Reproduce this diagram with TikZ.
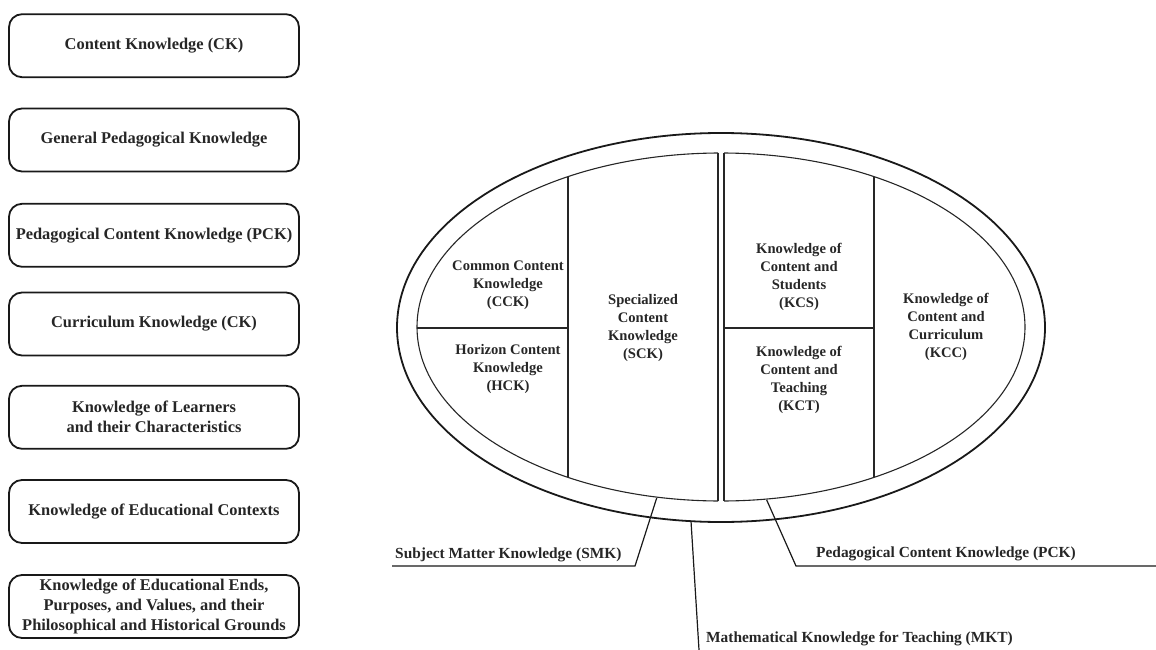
\documentclass[tikz,border=0pt]{standalone}
\usepackage{fontspec}
\setmainfont{Liberation Serif}
\begin{document}
\begin{tikzpicture}[x=1pt,y=-1pt,
  lbox/.style={draw=black!90, line width=1.8pt, rounded corners=13pt, minimum width=290pt, minimum height=63pt, inner sep=0pt, align=center, font=\fontsize{16.4}{20}\selectfont\bfseries, text=black!85},
  etext/.style={align=center, inner sep=0pt, font=\fontsize{14.6}{17.8}\selectfont\bfseries, text=black!85},
  ltext/.style={anchor=base west, inner sep=0pt, font=\fontsize{15.4}{18}\selectfont\bfseries, text=black!85},
  ring/.style={line width=1.8pt, draw=black!90},
  part/.style={line width=1.1pt, draw=black!85},
  lead/.style={line width=1.2pt, draw=black!90}
]
\useasboundingbox (0,0) rectangle (1156,650);

% left column of boxes
\node[lbox] (b1) at (154,45.7) {Content Knowledge (CK)};
\node[lbox] (b2) at (154,140) {General Pedagogical Knowledge};
\node[lbox] (b3) at (154,235.3) {Pedagogical Content Knowledge (PCK)};
\node[lbox] (b4) at (154,324) {Curriculum Knowledge (CK)};
\node[lbox] (b5) at (154,417.3) {Knowledge of Learners\\and their Characteristics};
\node[lbox] (b6) at (154,511.5) {Knowledge of Educational Contexts};
\node[lbox] (b7) at (154,606.5) {Knowledge of Educational Ends,\\Purposes, and Values, and their\\Philosophical and Historical Grounds};

% outer ring
\draw[ring] (721,327.5) ellipse [x radius=324, y radius=194.5];

% inner halves
\begin{scope}
  \clip (400,140) rectangle (718,520);
  \draw[part] (721,327) ellipse [x radius=304, y radius=174];
\end{scope}
\draw[part] (718,153) -- (718,501);
\begin{scope}
  \clip (724,140) rectangle (1040,520);
  \draw[part] (721,327) ellipse [x radius=304, y radius=174];
\end{scope}
\draw[part] (724,153) -- (724,501);

% dividers
\draw[part] (568,177) -- (568,477);
\draw[part] (417,328) -- (568,328);
\draw[part] (874,177) -- (874,477);
\draw[part] (724,328) -- (874,328);

% inner labels
\node[etext] (cck) at (508,285) {Common Content\\Knowledge\\(CCK)};
\node[etext] (hck) at (508,369) {Horizon Content\\Knowledge\\(HCK)};
\node[etext] (sck) at (643,328) {Specialized\\Content\\Knowledge\\(SCK)};
\node[etext] (kcs) at (799,277) {Knowledge of\\Content and\\Students\\(KCS)};
\node[etext] (kct) at (799,380) {Knowledge of\\Content and\\Teaching\\(KCT)};
\node[etext] (kcc) at (946,327) {Knowledge of\\Content and\\Curriculum\\(KCC)};

% bottom labels
\node[ltext] (smk) at (395,558) {Subject Matter Knowledge (SMK)};
\node[ltext] (pck) at (816,557) {Pedagogical Content Knowledge (PCK)};
\node[ltext] (mkt) at (706,642) {Mathematical Knowledge for Teaching (MKT)};

% leaders
\coordinate (smk1) at (656.7,498);
\coordinate (smk2) at (635,566);
\coordinate (smk3) at (392,566);
\draw[lead] (smk1) -- (smk2) -- (smk3);
\coordinate (mkt1) at (691,521);
\coordinate (mkt2) at (699,650);
\draw[lead] (mkt1) -- (mkt2);
\coordinate (pck1) at (766.7,500);
\coordinate (pck2) at (796,566);
\coordinate (pck3) at (1156,566);
\draw[lead] (pck1) -- (pck2) -- (pck3);
\end{tikzpicture}
\end{document}
